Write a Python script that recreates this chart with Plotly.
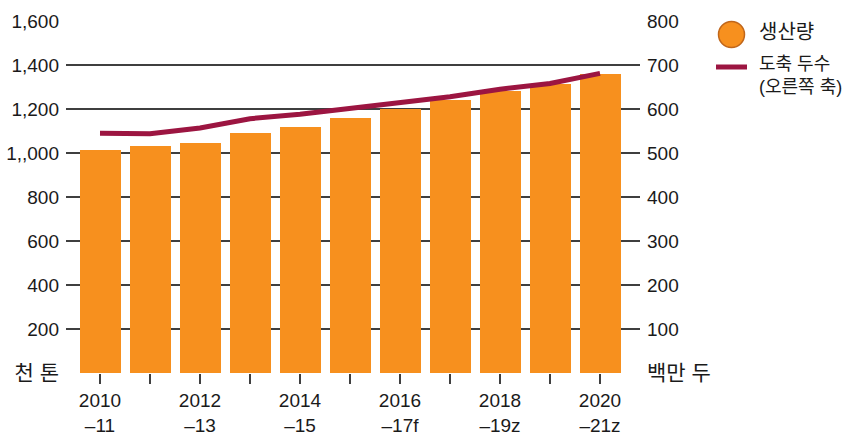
import plotly.graph_objects as go

# Crop years (marketing years) and data
periods = ["2010<br>–11", "", "2012<br>–13", "", "2014<br>–15", "", "2016<br>–17f", "",
           "2018<br>–19z", "", "2020<br>–21z"]
production = [1015, 1030, 1045, 1090, 1120, 1160, 1200, 1240, 1280, 1315, 1360]   # thousand tonnes
slaughter = [545, 544, 557, 578, 588, 601, 616, 628, 645, 658, 681]                # million head

KO = '<span style="font-size:21px">{}</span>'
left_ticks = [0, 200, 400, 600, 800, 1000, 1200, 1400, 1600]
left_text = [KO.format("천 톤"), "200", "400", "600", "800", "1,,000", "1,200", "1,400", "1,600"]
right_ticks = [0, 100, 200, 300, 400, 500, 600, 700, 800]
right_text = [KO.format("백만 두"), "100", "200", "300", "400", "500", "600", "700", "800"]

ORANGE = "#F7901E"
MAROON = "#9C1541"
GRID = "#3f3f3f"
FONT = "Liberation Sans, Noto Sans CJK KR, sans-serif"

W, H = 850, 434
ML, MR, MT, MB = 66, 210, 21, 61
PW, PH = W - ML - MR, H - MT - MB


def px(xp):
    return (xp - ML) / PW


def py(yp):
    return (H - MB - yp) / PH


x = list(range(len(production)))

fig = go.Figure()
fig.add_trace(go.Bar(x=x, y=production, width=0.82, marker=dict(color=ORANGE, line=dict(width=0)),
                     showlegend=False, yaxis="y", name="생산량"))
fig.add_trace(go.Scatter(x=x, y=slaughter, mode="lines", line=dict(color=MAROON, width=5),
                         showlegend=False, yaxis="y2", name="도축 두수"))

# legend: keys and labels to the right of the plot
fig.add_shape(type="circle", xref="paper", yref="paper",
              x0=px(718.5), x1=px(744.5), y0=py(47.5), y1=py(21.5),
              fillcolor=ORANGE, line=dict(color="#C0661A", width=1.5))
fig.add_shape(type="line", xref="paper", yref="paper",
              x0=px(716), x1=px(747), y0=py(67), y1=py(67),
              line=dict(color=MAROON, width=5))
fig.add_annotation(xref="paper", yref="paper", x=px(758), y=py(32),
                   xanchor="left", yanchor="middle", text="생산량", showarrow=False,
                   font=dict(size=20), borderpad=0)
fig.add_annotation(xref="paper", yref="paper", x=px(758), y=py(75),
                   xanchor="left", yanchor="middle", text="도축 두수<br>(오른쪽 축)",
                   showarrow=False, align="left", font=dict(size=18), borderpad=0)

fig.update_layout(
    width=W, height=H,
    margin=dict(l=ML, r=MR, t=MT, b=MB, autoexpand=False),
    paper_bgcolor="white", plot_bgcolor="white",
    font=dict(family=FONT, size=19, color="#1a1a1a"),
    showlegend=False,
    bargap=0,
    xaxis=dict(range=[-0.68, 10.8], tickmode="array", tickvals=x, ticktext=periods,
               ticks="outside", ticklen=10, tickwidth=1.5, tickcolor=GRID,
               showline=False, showgrid=False, zeroline=False, tickangle=0,
               automargin=False, tickfont=dict(size=19)),
    yaxis=dict(range=[0, 1600], tickmode="array", tickvals=left_ticks, ticktext=left_text,
               showgrid=True, gridcolor=GRID, gridwidth=1.5, zeroline=False, ticks="",
               ticklabelstandoff=6, automargin=False),
    yaxis2=dict(range=[0, 800], tickmode="array", tickvals=right_ticks, ticktext=right_text,
                overlaying="y", side="right", showgrid=False, zeroline=False, ticks="",
                ticklabelstandoff=6, automargin=False),
)

fig.write_html("out.html")
